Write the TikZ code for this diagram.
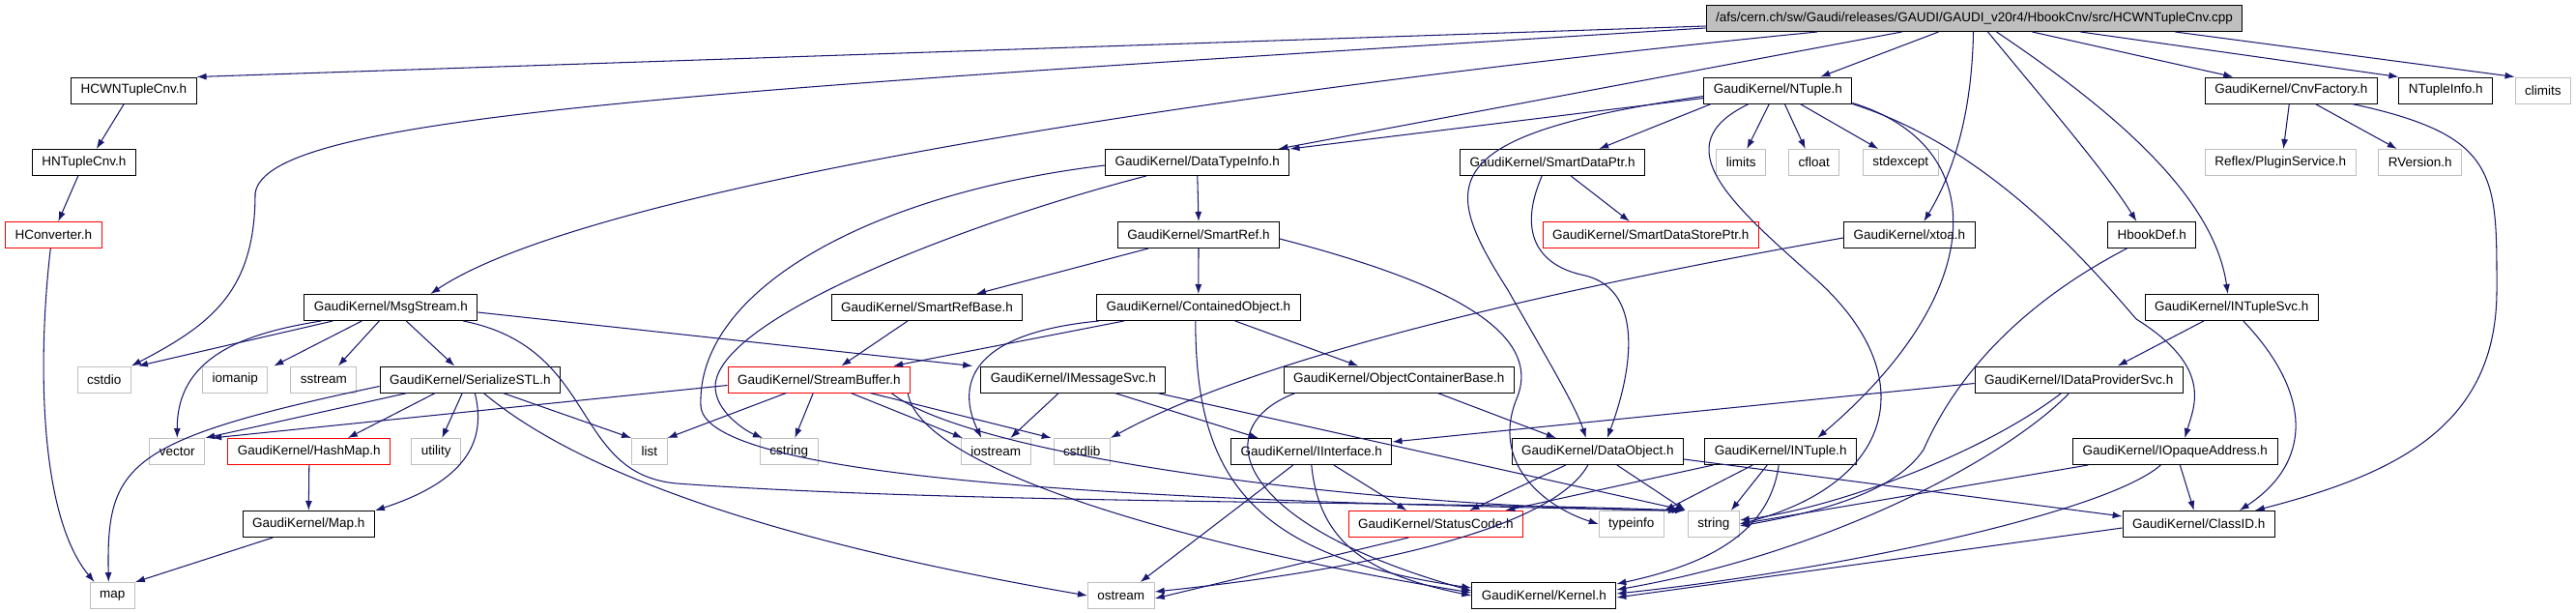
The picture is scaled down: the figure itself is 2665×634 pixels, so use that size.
\documentclass[tikz,border=0pt]{standalone}
\usepackage{fontspec}
\setmainfont{Liberation Sans}
\usepackage{xcolor}
\usepackage{tikz}
\usetikzlibrary{arrows.meta, positioning, calc}

\definecolor{edgeblue}{RGB}{25,25,112}
\definecolor{boxgray}{RGB}{191,191,191}

\begin{document}
\begin{tikzpicture}[x=1pt, y=-1pt,
  font=\fontsize{13.5}{16}\selectfont,
  hdr/.style={draw=black, fill=white, line width=1pt, inner xsep=10pt, inner ysep=2pt, minimum height=27pt},
  redhdr/.style={hdr, draw=red},
  syshdr/.style={hdr, draw=boxgray},
  dep/.style={->, draw=edgeblue, line width=1.05pt},
  >={Latex[length=10pt,width=7pt]}]
\fill[white] (0,0) rectangle (2665,634);
\useasboundingbox (0,0) rectangle (2665,634);

% Source file
\node[hdr, fill=boxgray] (root) at (2042.5,19) {/afs/cern.ch/sw/Gaudi/releases/GAUDI/GAUDI\_v20r4/HbookCnv/src/HCWNTupleCnv.cpp};

% Row 1
\node[hdr] (hcwntuple) at (138.3,93.5) {HCWNTupleCnv.h};
\node[hdr] (ntuple) at (1839.3,93.5) {GaudiKernel/NTuple.h};
\node[hdr] (cnvfactory) at (2370.3,93.5) {GaudiKernel/CnvFactory.h};
\node[hdr] (ntupleinfo) at (2530.3,93.5) {NTupleInfo.h};
\node[syshdr] (climits) at (2630.8,93.5) {climits};

% Row 2
\node[hdr] (hntuple) at (86.8,168) {HNTupleCnv.h};
\node[hdr] (datatypeinfo) at (1238.8,168) {GaudiKernel/DataTypeInfo.h};
\node[hdr] (smartdataptr) at (1606.2,168) {GaudiKernel/SmartDataPtr.h};
\node[syshdr] (limits) at (1801.3,168) {limits};
\node[syshdr] (cfloat) at (1876.7,168) {cfloat};
\node[syshdr] (stdexcept) at (1966.2,168) {stdexcept};
\node[syshdr] (pluginsvc) at (2359.3,168) {Reflex/PluginService.h};
\node[syshdr] (rversion) at (2503.8,168) {RVersion.h};

% Row 3
\node[redhdr] (hconverter) at (55.3,243) {HConverter.h};
\node[hdr] (smartref) at (1240,243) {GaudiKernel/SmartRef.h};
\node[redhdr] (smartdatastoreptr) at (1707.8,243) {GaudiKernel/SmartDataStorePtr.h};
\node[hdr] (xtoa) at (1975.3,243) {GaudiKernel/xtoa.h};
\node[hdr] (hbookdef) at (2226.3,243) {HbookDef.h};

% Row 4
\node[hdr] (msgstream) at (404.3,318) {GaudiKernel/MsgStream.h};
\node[hdr] (smartrefbase) at (959,318) {GaudiKernel/SmartRefBase.h};
\node[hdr] (containedobject) at (1239.8,318) {GaudiKernel/ContainedObject.h};
\node[hdr] (intuplesvc) at (2308.8,318) {GaudiKernel/INTupleSvc.h};

% Row 5
\node[syshdr] (cstdio) at (107.8,392.5) {cstdio};
\node[syshdr] (iomanip) at (243.3,392.5) {iomanip};
\node[syshdr] (sstream) at (334.8,392.5) {sstream};
\node[hdr] (serializestl) at (486.3,392.5) {GaudiKernel/SerializeSTL.h};
\node[redhdr] (streambuffer) at (847.3,392.5) {GaudiKernel/StreamBuffer.h};
\node[hdr] (imessagesvc) at (1110.3,392.5) {GaudiKernel/IMessageSvc.h};
\node[hdr] (objcontainer) at (1447.3,392.5) {GaudiKernel/ObjectContainerBase.h};
\node[hdr] (idataprovidersvc) at (2150.7,392.5) {GaudiKernel/IDataProviderSvc.h};

% Row 6
\node[syshdr] (vector) at (183.3,467) {vector};
\node[redhdr] (hashmap) at (319.8,467) {GaudiKernel/HashMap.h};
\node[syshdr] (utility) at (451.3,467) {utility};
\node[syshdr] (list) at (671.8,467) {list};
\node[syshdr] (cstring) at (816.3,467) {cstring};
\node[syshdr] (iostream) at (1030.3,467) {iostream};
\node[syshdr] (cstdlib) at (1119.3,467) {cstdlib};
\node[hdr] (iinterface) at (1356.8,467) {GaudiKernel/IInterface.h};
\node[hdr] (dataobject) at (1652.8,467) {GaudiKernel/DataObject.h};
\node[hdr] (intuple) at (1842.2,467) {GaudiKernel/INTuple.h};
\node[hdr] (iopaqueaddress) at (2250.3,467) {GaudiKernel/IOpaqueAddress.h};

% Row 7
\node[hdr] (gkmap) at (319.3,542) {GaudiKernel/Map.h};
\node[redhdr] (statuscode) at (1485.3,542) {GaudiKernel/StatusCode.h};
\node[syshdr] (typeinfo) at (1687.8,542) {typeinfo};
\node[syshdr] (string) at (1772.8,542) {string};
\node[hdr] (classid) at (2274.8,542) {GaudiKernel/ClassID.h};

% Row 8
\node[syshdr] (map) at (116.3,616) {map};
\node[syshdr] (ostream) at (1159.8,616) {ostream};
\node[hdr] (kernel) at (1597.3,616) {GaudiKernel/Kernel.h};

% Includes of the .cpp file
\draw[dep] ([yshift=-8pt]root.west) -- (hcwntuple.north east);
\draw[dep] ([yshift=-10pt]root.west) .. controls (700,95) and (275,120) .. (264,200) .. controls (264,300) and (220,335) .. (cstdio.north east);
\draw[dep] ([xshift=-162.5pt]root.south) .. controls (1200,100) and (600,200) .. ([xshift=41pt]msgstream.north);
\draw[dep] ([xshift=-75pt]root.south) -- ([xshift=-12pt]datatypeinfo.north east);
\draw[dep] ([xshift=-37pt]root.south) -- ([xshift=44pt]ntuple.north);
\draw[dep] ([xshift=-1pt]root.south) .. controls (2040,120) and (2020,180) .. ([xshift=15pt]xtoa.north);
\draw[dep] ([xshift=14pt]root.south) .. controls (2120,110) and (2180,180) .. ([xshift=-16pt]hbookdef.north);
\draw[dep] ([xshift=23pt]root.south) .. controls (2180,110) and (2290,200) .. ([xshift=-4pt]intuplesvc.north);
\draw[dep] ([xshift=60pt]root.south) -- ([xshift=-60pt]cnvfactory.north);
\draw[dep] ([xshift=110pt]root.south) -- (ntupleinfo.north west);
\draw[dep] ([xshift=208pt]root.south) -- (climits.north west);

% HbookCnv chain
\draw[dep] ([xshift=-10pt]hcwntuple.south) -- ([xshift=13pt]hntuple.north);
\draw[dep] ([xshift=-6pt]hntuple.south) -- ([xshift=5pt]hconverter.north);
\draw[dep] ([xshift=-3pt]hconverter.south) .. controls (40,360) and (38,530) .. ([xshift=5pt]map.north west);

% NTuple.h
\draw[dep] ([yshift=-8pt]ntuple.west) -- (datatypeinfo.north east);
\draw[dep] ([xshift=-69pt]ntuple.south) -- ([xshift=48pt]smartdataptr.north);
\draw[dep] ([yshift=-6pt]ntuple.west) .. controls (1480,140) and (1490,190) .. (1560,300) .. controls (1600,370) and (1630,420) .. ([xshift=-12pt]dataobject.north);
\draw[dep] ([xshift=-9pt]ntuple.south) -- ([xshift=6pt]limits.north);
\draw[dep] ([xshift=7pt]ntuple.south) -- ([xshift=-9pt]cfloat.north);
\draw[dep] ([xshift=23pt]ntuple.south) -- ([xshift=-23pt]stdexcept.north);
\draw[dep] ([xshift=-30pt]ntuple.south) .. controls (1720,150) and (1790,210) .. (1880,290) .. controls (1990,390) and (1960,500) .. (string.east);
\draw[dep] ([yshift=-13pt]ntuple.east) .. controls (2060,150) and (2060,300) .. ([xshift=38pt]intuple.north);
\draw[dep] ([yshift=-14pt]ntuple.east) .. controls (2050,150) and (2150,260) .. (2210,330) .. controls (2290,380) and (2270,420) .. ([xshift=10pt]iopaqueaddress.north);

% CnvFactory.h
\draw[dep] ([xshift=-2pt]cnvfactory.south) -- ([xshift=3pt]pluginsvc.north);
\draw[dep] ([xshift=25pt]cnvfactory.south) -- ([xshift=-24pt]rversion.north);
\draw[dep] ([xshift=63pt]cnvfactory.south) .. controls (2585,140) and (2583,180) .. (2583,300) .. controls (2583,440) and (2480,490) .. ([xshift=58pt]classid.north);

% DataTypeInfo.h
\draw[dep] (datatypeinfo.south) -- (smartref.north);
\draw[dep] ([xshift=-53pt]datatypeinfo.south) .. controls (1000,230) and (740,330) .. (740,400) .. controls (740,425) and (770,445) .. ([xshift=3pt]cstring.north west);
\draw[dep] ([yshift=-3pt]datatypeinfo.west) .. controls (900,200) and (720,300) .. (725,420) .. controls (730,505) and (1300,520) .. ([xshift=-10pt]string.north west);

% SmartDataPtr.h
\draw[dep] ([xshift=19pt]smartdataptr.south) -- ([xshift=-22pt]smartdatastoreptr.north);
\draw[dep] ([xshift=-11pt]smartdataptr.south) .. controls (1570,240) and (1590,275) .. (1640,285) .. controls (1700,300) and (1690,380) .. ([xshift=10pt]dataobject.north);

% xtoa.h and HbookDef.h
\draw[dep] ([yshift=-3pt]xtoa.west) .. controls (1600,300) and (1300,370) .. (cstdlib.north east);
\draw[dep] ([xshift=-26pt]hbookdef.south) .. controls (2060,330) and (2010,420) .. (1990,465) .. controls (1960,510) and (1880,530) .. ([yshift=-2pt]string.east);

% SmartRef.h
\draw[dep] ([xshift=-52pt]smartref.south) -- ([xshift=51pt]smartrefbase.north);
\draw[dep] (smartref.south) -- (containedobject.north);
\draw[dep] ([yshift=-4pt]smartref.east) .. controls (1450,280) and (1600,330) .. (1570,410) .. controls (1540,480) and (1600,525) .. (typeinfo.west);

% MsgStream.h
\draw[dep] ([xshift=-60pt]msgstream.south) -- ([xshift=7pt]cstdio.north east);
\draw[dep] ([xshift=-72pt]msgstream.south) .. controls (250,345) and (183,370) .. (vector.north);
\draw[dep] ([xshift=-30pt]msgstream.south) -- ([xshift=40pt]iomanip.north);
\draw[dep] ([xshift=-12pt]msgstream.south) -- ([xshift=15pt]sstream.north);
\draw[dep] ([xshift=16pt]msgstream.south) -- ([xshift=-16pt]serializestl.north);
\draw[dep] ([yshift=-5pt]msgstream.east) -- ([xshift=-8pt]imessagesvc.north west);
\draw[dep] ([xshift=75pt]msgstream.south) .. controls (620,360) and (590,490) .. (700,500) .. controls (1000,522) and (1500,518) .. ([xshift=-6pt]string.north west);

% SmartRefBase.h and ContainedObject.h
\draw[dep] ([xshift=-20pt]smartrefbase.south) -- ([xshift=23pt]streambuffer.north);
\draw[dep] ([xshift=-77pt]containedobject.south) -- ([xshift=-18pt]streambuffer.north east);
\draw[dep] ([xshift=-103pt]containedobject.south) .. controls (1000,345) and (990,400) .. ([xshift=-15pt]iostream.north);
\draw[dep] ([xshift=38pt]containedobject.south) -- ([xshift=-42pt]objcontainer.north);
\draw[dep] ([xshift=-3pt]containedobject.south) .. controls (1237,490) and (1290,575) .. ([yshift=8pt]kernel.west);

% INTupleSvc.h
\draw[dep] ([xshift=-29pt]intuplesvc.south) -- ([xshift=40pt]idataprovidersvc.north);
\draw[dep] ([xshift=12pt]intuplesvc.south) .. controls (2395,410) and (2390,480) .. ([xshift=42pt]classid.north);

% SerializeSTL.h
\draw[dep] ([xshift=-65pt]serializestl.south) -- (vector.north east);
\draw[dep] ([yshift=-7pt]serializestl.west) .. controls (130,455) and (110,480) .. ([xshift=-4pt]map.north);
\draw[dep] ([xshift=-36pt]serializestl.south) -- ([xshift=40pt]hashmap.north);
\draw[dep] ([xshift=-8pt]serializestl.south) -- ([xshift=6pt]utility.north);
\draw[dep] ([xshift=34pt]serializestl.south) -- (list.north west);
\draw[dep] ([xshift=5pt]serializestl.south) .. controls (502,450) and (490,495) .. (gkmap.north east);
\draw[dep] ([xshift=14pt]serializestl.south) .. controls (600,490) and (800,560) .. (ostream.west);

% HashMap.h and Map.h
\draw[dep] (hashmap.south) -- (gkmap.north);
\draw[dep] ([xshift=-37pt]gkmap.south) -- (map.north east);

% StreamBuffer.h
\draw[dep] ([yshift=-6pt]streambuffer.west) -- ([xshift=7pt]vector.north east);
\draw[dep] ([xshift=-34pt]streambuffer.south) -- (list.north east);
\draw[dep] ([xshift=-6pt]streambuffer.south) -- ([xshift=6pt]cstring.north);
\draw[dep] ([xshift=33pt]streambuffer.south) -- ([xshift=2pt]iostream.north west);
\draw[dep] ([xshift=53pt]streambuffer.south) -- ([xshift=-2pt]cstdlib.north west);
\draw[dep] ([xshift=75pt]streambuffer.south) .. controls (1000,470) and (1400,525) .. ([xshift=-3pt]string.north west);
\draw[dep] ([xshift=92pt]streambuffer.south) .. controls (950,480) and (1200,560) .. ([yshift=3pt]kernel.west);

% IMessageSvc.h
\draw[dep] ([xshift=-15pt]imessagesvc.south) -- ([xshift=15pt]iostream.north);
\draw[dep] ([xshift=43pt]imessagesvc.south) -- ([xshift=-55pt]iinterface.north);
\draw[dep] ([xshift=87pt]imessagesvc.south) -- ([xshift=-2pt]string.north west);

% ObjectContainerBase.h
\draw[dep] ([xshift=40pt]objcontainer.south) -- ([xshift=-43pt]dataobject.north);
\draw[dep] ([xshift=-107pt]objcontainer.south) .. controls (1250,440) and (1270,540) .. ([yshift=5pt]kernel.west);

% IDataProviderSvc.h
\draw[dep] ([yshift=-4pt]idataprovidersvc.west) -- ([yshift=-4pt]iinterface.north east);
\draw[dep] ([xshift=-18pt]idataprovidersvc.south) .. controls (2050,470) and (1900,525) .. ([yshift=4pt]string.east);
\draw[dep] ([xshift=-10pt]idataprovidersvc.south) .. controls (2080,470) and (1900,570) .. ([yshift=6pt]kernel.east);

% IInterface.h
\draw[dep] ([xshift=23pt]iinterface.south) -- ([xshift=-30pt]statuscode.north);
\draw[dep] (iinterface.south) .. controls (1365,565) and (1420,595) .. ([yshift=0pt]kernel.west);
\draw[dep] ([xshift=-19pt]iinterface.south) -- ([xshift=-15pt]ostream.north east);

% DataObject.h
\draw[dep] ([xshift=-33pt]dataobject.south) -- ([xshift=35pt]statuscode.north);
\draw[dep] ([xshift=20pt]dataobject.south) -- ([xshift=-2pt]string.north west);
\draw[dep] ([yshift=-8pt]dataobject.east) -- ([yshift=8pt]classid.west);
\draw[dep] ([xshift=-10pt]dataobject.south) .. controls (1610,540) and (1450,585) .. ([yshift=4pt]ostream.east);

% INTuple.h
\draw[dep] ([xshift=-14pt]intuple.south) -- ([xshift=18pt]string.north);
\draw[dep] ([xshift=-2pt]intuple.south) .. controls (1830,555) and (1760,585) .. ([yshift=12pt]kernel.east);
\draw[dep] ([xshift=-70pt]intuple.south) -- ([xshift=72pt]statuscode.north);
\draw[dep] ([xshift=-29pt]intuple.south) -- (typeinfo.north east);

% Remaining includes
\draw[dep] ([xshift=-28pt]statuscode.south) -- ([yshift=-3pt]ostream.east);
\draw[dep] ([xshift=-90pt]iopaqueaddress.south) -- (string.east);
\draw[dep] ([xshift=5pt]iopaqueaddress.south) -- ([xshift=-5pt]classid.north);
\draw[dep] ([xshift=-15pt]iopaqueaddress.south) .. controls (2180,530) and (1900,590) .. ([yshift=2pt]kernel.east);
\draw[dep] ([yshift=-4pt]classid.west) -- ([yshift=-2pt]kernel.east);
\end{tikzpicture}
\end{document}
